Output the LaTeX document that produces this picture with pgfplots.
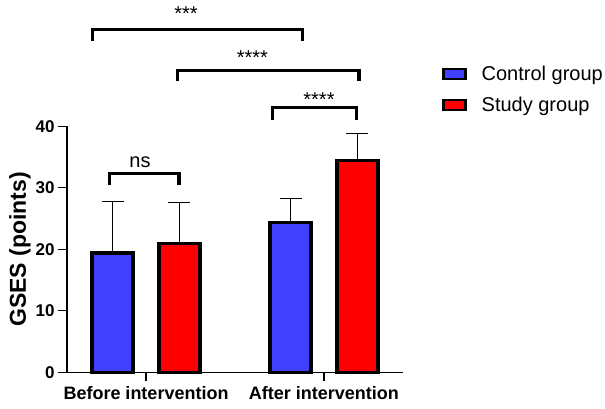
\documentclass[border=0pt]{standalone}
\usepackage{pgfplots}
\pgfplotsset{compat=1.18}
\usepackage{fontspec}
\setmainfont{Liberation Sans}
\definecolor{cblue}{RGB}{64,64,255}
\definecolor{cred}{RGB}{255,0,0}
\begin{document}
\begin{tikzpicture}
\begin{axis}[
  scale only axis, width=336pt, height=246pt,
  xmin=-0.444, xmax=1.444, ymin=0, ymax=40,
  axis lines=left, axis line style={line width=1.3pt,-},
  clip=false,
  xtick={0,1}, xticklabels={Before intervention, After intervention},
  ytick={0,10,20,30,40},
  /pgf/number format/assume math mode=true,
  tick style={line width=1.3pt, black},
  major tick length=9pt, tick align=outside,
  yticklabel style={font=\bfseries\fontsize{17}{20}\selectfont},
  xticklabel style={font=\bfseries\fontsize{18}{21}\selectfont, yshift=-2pt},
  ylabel={GSES (points)},
  ylabel style={font=\bfseries\fontsize{23}{27}\selectfont, yshift=-2pt},
  legend style={draw=none, fill=none, at={(1.116,1.255)}, anchor=north west,
    font=\fontsize{20}{23}\selectfont, row sep=11pt, inner sep=0pt},
  legend cell align=left,
]
\addplot[ybar, bar width=41pt, bar shift=0pt, fill=cblue, draw=black, line width=3.2pt,
  area legend,
  legend image code/.code={\draw[fill=cblue, draw=black, line width=2.5pt] (0pt,-5pt) rectangle (22pt,5pt);},
  error bars/.cd, y dir=plus, y explicit,
  error bar style={line width=1pt, black},
  error mark options={line width=1pt, mark size=11pt, black, rotate=90}]
  coordinates {(-0.188,19.4) +- (0,8.4) (0.812,24.3) +- (0,4.0)};
\addlegendentry{\hspace{13pt}Control group}
\addplot[ybar, bar width=41pt, bar shift=0pt, fill=cred, draw=black, line width=3.2pt,
  area legend,
  legend image code/.code={\draw[fill=cred, draw=black, line width=2.5pt] (0pt,-5pt) rectangle (22pt,5pt);},
  error bars/.cd, y dir=plus, y explicit,
  error bar style={line width=1pt, black},
  error mark options={line width=1pt, mark size=11pt, black, rotate=90}]
  coordinates {(0.188,21.0) +- (0,6.6) (1.188,34.5) +- (0,4.3)};
\addlegendentry{\hspace{13pt}Study group}
% significance brackets
\addplot[forget plot, black, line width=3.2pt, line join=miter, mark=none]
  coordinates {(-0.300,53.9) (-0.300,55.7) (0.880,55.7) (0.880,53.9)};
\addplot[forget plot, black, line width=3.2pt, line join=miter, mark=none]
  coordinates {(0.178,47.3) (0.178,49.1) (1.197,49.1) (1.197,47.3)};
\addplot[forget plot, black, line width=3.2pt, line join=miter, mark=none]
  coordinates {(0.712,41.1) (0.712,43.0) (1.184,43.0) (1.184,41.1)};
\addplot[forget plot, black, line width=3.2pt, line join=miter, mark=none]
  coordinates {(-0.206,30.4) (-0.206,32.3) (0.185,32.3) (0.185,30.4)};
\node[anchor=base, font=\fontsize{20}{22}\selectfont] at (axis cs:0.225,57.2) {***};
\node[anchor=base, font=\fontsize{20}{22}\selectfont] at (axis cs:0.598,50.1) {****};
\node[anchor=base, font=\fontsize{20}{22}\selectfont] at (axis cs:0.972,43.3) {****};
\node[anchor=base, font=\fontsize{20}{22}\selectfont] at (axis cs:-0.034,33.3) {ns};
\coordinate (O) at (rel axis cs:0,0);
\end{axis}
\pgfresetboundingbox
\path ([shift={(-67pt,-35.7pt)}]O) rectangle ([shift={(538pt,372.3pt)}]O);
\end{tikzpicture}
\end{document}
